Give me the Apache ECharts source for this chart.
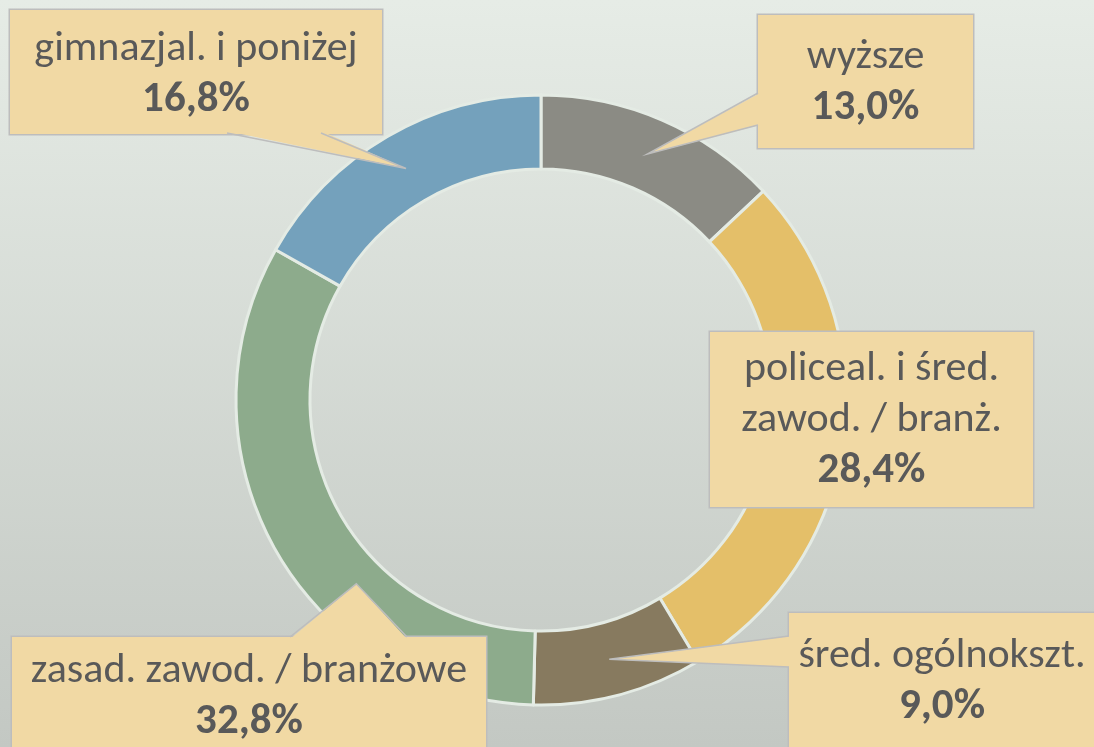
<!DOCTYPE html>
<html>
<head>
<meta charset="utf-8">
<script src="https://cdn.jsdelivr.net/npm/echarts@6/dist/echarts.min.js"></script>
<style>
  html, body { margin: 0; padding: 0; }
  #chart { width: 1094px; height: 747px; }
</style>
</head>
<body>
<div id="chart"></div>
<script>
// dane: udział wg wykształcenia (od góry, zgodnie z ruchem wskazówek zegara)
const categories = [
  'wyższe',
  'policeal. i śred.\nzawod. / branż.',
  'śred. ogólnokszt.',
  'zasad. zawod. / branżowe',
  'gimnazjal. i poniżej'
]
const shares = [13.0, 28.4, 9.0, 32.8, 16.8]
const sliceColors = ['#8b8b84', '#e4bf69', '#877a5f', '#8dab8c', '#74a1bc']

// układ dymków: lewy górny róg, szerokość, padding góra/dół
const boxes = [
  { x: 758, y: 15, w: 215, pt: 17, pb: 14 },
  { x: 710, y: 332, w: 323, pt: 12, pb: 10 },
  { x: 789, y: 613, w: 306, pt: 18, pb: 20 },
  { x: 12, y: 637, w: 474, pt: 9, pb: 20 },
  { x: 10, y: 10, w: 372, pt: 14, pb: 8 }
]
// wskaźniki dymków: dwa punkty podstawy na krawędzi dymka + położenie czubka w wycinku
const pointers = [
  { i: 0, base: [[758, 93], [758, 125]], t: 0.5, rt: 0.5 },
  { i: 2, base: [[789, 636], [789, 667]], t: 0.5, rt: 0.5 },
  { i: 3, base: [[290, 637], [407, 637]], t: 0.37, rt: 0.4 },
  { i: 4, base: [[227, 133], [321, 133]], t: 0.5, rt: 0.5 }
]

const BOX_FILL = '#f1d9a4'
const BOX_BORDER = '#bdbdbd'
const TEXT = '#595959'
const FONT = 'Carlito, Lato, sans-serif'

const chart = echarts.init(document.getElementById('chart'))

const fmt = (v) => v.toFixed(1).replace('.', ',') + '%'

const pieData = categories.map((name, i) => ({
  name,
  value: shares[i],
  itemStyle: { color: sliceColors[i] },
  label: {
    width: boxes[i].w,
    padding: [boxes[i].pt, 0, boxes[i].pb, 0]
  }
}))

chart.setOption({
  animation: false,
  backgroundColor: new echarts.graphic.LinearGradient(0, 0, 0, 1, [
    { offset: 0, color: '#e6ece6' },
    { offset: 1, color: '#c3c8c3' }
  ]),
  series: [
    {
      type: 'pie',
      center: [541, 400],
      radius: [231, 305],
      startAngle: 90,
      clockwise: true,
      avoidLabelOverlap: false,
      emphasis: { scale: false },
      itemStyle: { borderColor: '#e4ebe4', borderWidth: 3 },
      labelLine: { show: false },
      label: {
        show: true,
        position: 'outside',
        backgroundColor: BOX_FILL,
        borderColor: BOX_BORDER,
        borderWidth: 1.5,
        formatter: (p) =>
          p.name.split('\n').map((s) => '{n|' + s + '}').join('\n') + '\n{v|' + fmt(p.value) + '}',
        rich: {
          n: { fontFamily: FONT, fontSize: 42, color: TEXT, lineHeight: 51, align: 'center' },
          v: { fontFamily: FONT, fontSize: 43, fontWeight: 'bold', color: TEXT, lineHeight: 51, align: 'center' }
        }
      },
      labelLayout: (params) => {
        const b = boxes[params.dataIndex]
        return { x: b.x, y: b.y, align: 'left', verticalAlign: 'top' }
      },
      data: pieData
    }
  ]
})

// wskaźniki liczone z układu wycinków wyliczonego przez bibliotekę
const seriesData = chart.getModel().getSeriesByIndex(0).getData()
const graphics = []
pointers.forEach((p) => {
  const l = seriesData.getItemLayout(p.i)
  const a = l.startAngle + (l.endAngle - l.startAngle) * p.t
  const r = l.r0 + (l.r - l.r0) * p.rt
  const tip = [l.cx + r * Math.cos(a), l.cy + r * Math.sin(a)]
  const [b1, b2] = p.base
  // przesunięcie podstawy do wnętrza dymka, by zasłonić jego ramkę
  const inward = b1[0] === b2[0]
    ? (tip[0] < b1[0] ? [2, 0] : [-2, 0])
    : (tip[1] < b1[1] ? [0, 2] : [0, -2])
  graphics.push({
    type: 'polygon',
    z: 100,
    silent: true,
    shape: { points: [[b1[0] + inward[0], b1[1] + inward[1]], tip, [b2[0] + inward[0], b2[1] + inward[1]]] },
    style: { fill: BOX_FILL }
  })
  graphics.push({
    type: 'polyline',
    z: 101,
    silent: true,
    shape: { points: [b1, tip, b2] },
    style: { fill: null, stroke: BOX_BORDER, lineWidth: 1.5 }
  })
})
chart.setOption({ graphic: graphics })
</script>
</body>
</html>
